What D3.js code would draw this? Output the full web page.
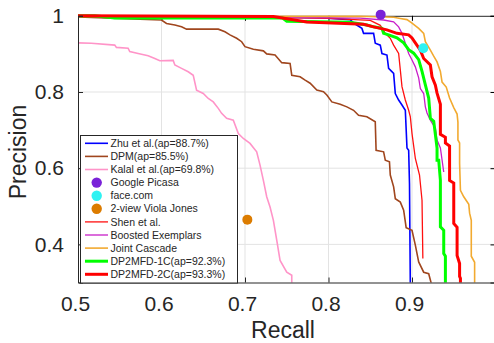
<!DOCTYPE html>
<html>
<head>
<meta charset="utf-8">
<script src="https://cdn.jsdelivr.net/npm/d3@7"></script>
<style>
  html, body { margin: 0; padding: 0; background: #fff; }
  svg { display: block; font-family: "Liberation Sans", Arial, sans-serif; }
  .tick text { fill: #262626; }
</style>
</head>
<body>
<div id="chart"></div>
<script>
// [recall, precision]
const zhu = [[0.5,1.0],[0.6,0.998],[0.7,0.996],[0.79,0.995],[0.826,0.99],[0.83,0.981],[0.840,0.967],[0.842,0.954],
  [0.854,0.954],[0.856,0.928],[0.862,0.923],[0.864,0.901],[0.870,0.897],[0.872,0.862],[0.878,0.849],[0.880,0.796],
  [0.884,0.779],[0.888,0.766],[0.892,0.752],[0.894,0.653],[0.896,0.647],[0.897,0.560],[0.898,0.29]];
const dpm = [[0.5,0.997],[0.574,0.991],[0.600,0.989],[0.606,0.980],[0.616,0.976],[0.624,0.971],[0.630,0.965],[0.668,0.965],
  [0.676,0.958],[0.682,0.950],[0.690,0.941],[0.696,0.932],[0.700,0.919],[0.710,0.912],[0.722,0.908],[0.726,0.900],
  [0.736,0.897],[0.744,0.877],[0.754,0.875],[0.756,0.844],[0.766,0.840],[0.772,0.831],[0.778,0.823],[0.786,0.805],
  [0.794,0.801],[0.798,0.792],[0.804,0.774],[0.814,0.768],[0.822,0.761],[0.830,0.752],[0.836,0.739],[0.846,0.735],
  [0.856,0.722],[0.857,0.647],[0.866,0.643],[0.868,0.621],[0.873,0.617],[0.874,0.582],[0.878,0.551],[0.880,0.520],
  [0.886,0.511],[0.890,0.490],[0.893,0.444],[0.900,0.437],[0.904,0.398],[0.908,0.354],[0.914,0.327],[0.920,0.323],[0.924,0.29]];
const kalal = [[0.5,0.929],[0.516,0.928],[0.544,0.923],[0.546,0.917],[0.560,0.915],[0.562,0.906],[0.572,0.901],[0.584,0.895],
  [0.592,0.888],[0.598,0.882],[0.614,0.883],[0.616,0.871],[0.624,0.862],[0.632,0.853],[0.638,0.844],[0.642,0.805],
  [0.650,0.796],[0.656,0.783],[0.662,0.774],[0.668,0.757],[0.672,0.744],[0.678,0.731],[0.686,0.726],[0.692,0.691],
  [0.698,0.678],[0.706,0.665],[0.714,0.643],[0.718,0.608],[0.722,0.568],[0.726,0.525],[0.730,0.498],[0.734,0.463],
  [0.738,0.411],[0.742,0.358],[0.750,0.327],[0.756,0.319],[0.756,0.29]];
const shen = [[0.5,1.0],[0.7,0.997],[0.8,0.993],[0.85,0.988],[0.862,0.975],[0.868,0.954],[0.874,0.941],[0.878,0.923],
  [0.884,0.901],[0.886,0.858],[0.888,0.814],[0.892,0.779],[0.896,0.752],[0.898,0.735],[0.900,0.691],[0.904,0.626],
  [0.909,0.582],[0.912,0.516],[0.913,0.363]];
const boosted = [[0.5,1.0],[0.7,0.997],[0.838,0.994],[0.866,0.989],[0.878,0.984],[0.884,0.971],[0.888,0.954],[0.892,0.928],
  [0.896,0.901],[0.900,0.884],[0.904,0.866],[0.908,0.837],[0.910,0.809],[0.914,0.796],[0.916,0.761],[0.918,0.745],
  [0.922,0.726],[0.928,0.705],[0.930,0.674],[0.934,0.653],[0.938,0.590]];
const jointCascade = [[0.5,0.998],[0.838,0.999],[0.878,0.996],[0.886,0.993],[0.894,0.990],[0.900,0.981],[0.908,0.967],
  [0.914,0.954],[0.916,0.932],[0.922,0.910],[0.926,0.894],[0.930,0.879],[0.934,0.854],[0.936,0.826],[0.941,0.813],
  [0.945,0.784],[0.950,0.759],[0.954,0.742],[0.955,0.721],[0.955,0.674],[0.957,0.666],[0.957,0.613],[0.958,0.542],
  [0.962,0.525],[0.968,0.505],[0.969,0.482],[0.971,0.463],[0.971,0.369],[0.975,0.353],[0.975,0.29]];
const dp1c = [[0.5,1.0],[0.520,1.0],[0.544,0.994],[0.745,0.994],[0.750,0.986],[0.826,0.983],[0.846,0.976],
  [0.854,0.971],[0.864,0.967],[0.866,0.954],[0.872,0.950],[0.882,0.942],[0.890,0.929],[0.896,0.911],[0.902,0.902],
  [0.908,0.885],[0.912,0.854],[0.916,0.819],[0.920,0.784],[0.922,0.731],[0.926,0.723],[0.928,0.688],[0.930,0.653],
  [0.930,0.621],[0.932,0.621],[0.934,0.568],[0.934,0.446],[0.938,0.437],[0.938,0.376],[0.940,0.369],[0.940,0.29]];
const dp2c = [[0.5,1.0],[0.734,0.998],[0.774,0.984],[0.842,0.978],[0.854,0.971],[0.870,0.963],[0.882,0.954],[0.896,0.950],
  [0.900,0.942],[0.904,0.929],[0.910,0.910],[0.914,0.888],[0.922,0.871],[0.924,0.840],[0.928,0.818],[0.930,0.797],
  [0.934,0.768],[0.934,0.689],[0.940,0.681],[0.940,0.666],[0.945,0.658],[0.945,0.568],[0.950,0.561],[0.950,0.455],
  [0.954,0.445],[0.954,0.371],[0.957,0.350],[0.957,0.316],[0.958,0.311],[0.958,0.29]];

const picasa = [[0.8625, 1.003]];
const faceCom = [[0.9135, 0.915]];
const violaJones = [[0.7028, 0.465]];

const legendLabels = ["Zhu et al.(ap=88.7%)", "DPM(ap=85.5%)", "Kalal et al.(ap=69.8%)", "Google Picasa", "face.com",
  "2-view Viola Jones", "Shen et al.", "Boosted Exemplars", "Joint Cascade", "DP2MFD-1C(ap=92.3%)", "DP2MFD-2C(ap=93.3%)"];

const xTicks = [0.5, 0.6, 0.7, 0.8, 0.9];
const yTicks = [0.4, 0.6, 0.8, 1];

const entries = [
  { data: zhu, kind: "line", color: "#0000ff", w: 1.6 },
  { data: dpm, kind: "line", color: "#a0461e", w: 1.6 },
  { data: kalal, kind: "line", color: "#ff94c8", w: 1.6 },
  { data: picasa, kind: "dot", color: "#7a22d8" },
  { data: faceCom, kind: "dot", color: "#2ef2f2" },
  { data: violaJones, kind: "dot", color: "#dc7c00" },
  { data: shen, kind: "line", color: "#ff1010", w: 1.3 },
  { data: boosted, kind: "line", color: "#c81ec8", w: 1.3 },
  { data: jointCascade, kind: "line", color: "#f2aa30", w: 1.6 },
  { data: dp1c, kind: "line", color: "#00ff00", w: 3 },
  { data: dp2c, kind: "line", color: "#ff0000", w: 3 }
].map((d, i) => ({ ...d, label: legendLabels[i] }));

const W = 494, H = 343;
const plot = { left: 78, right: 495.5, top: 15.8, bottom: 282.5 };

const svg = d3.select("#chart").append("svg")
  .attr("width", W).attr("height", H);

const x = d3.scaleLinear().domain([0.5, 1]).range([plot.left, plot.right]);
const y = d3.scaleLinear().domain([0.3, 1]).range([plot.bottom, plot.top]);

svg.append("defs").append("clipPath").attr("id", "clip")
  .append("rect")
  .attr("x", plot.left).attr("y", 0)
  .attr("width", plot.right - plot.left).attr("height", plot.bottom);

// grid
const grid = svg.append("g").attr("stroke", "#e3e3e3").attr("stroke-width", 1);
grid.selectAll(".vg").data(xTicks.slice(1)).join("line")
  .attr("x1", d => x(d)).attr("x2", d => x(d))
  .attr("y1", plot.top).attr("y2", plot.bottom);
grid.selectAll(".hg").data(yTicks.slice(0, -1)).join("line")
  .attr("x1", plot.left).attr("x2", plot.right)
  .attr("y1", d => y(d)).attr("y2", d => y(d));

// box top edge + mirrored ticks
svg.append("g").attr("transform", `translate(0,${plot.top})`)
  .call(d3.axisTop(x).tickValues(xTicks).tickSize(-5).tickFormat(""))
  .call(g => g.select(".domain").attr("stroke", "#262626"));
svg.append("g").attr("transform", `translate(${plot.right},0)`)
  .call(d3.axisRight(y).tickValues(yTicks).tickSize(-5).tickFormat(""));

const line = d3.line().x(d => x(d[0])).y(d => y(d[1]));

const curves = svg.append("g").attr("clip-path", "url(#clip)");
entries.filter(d => d.kind === "line").forEach(s => {
  curves.append("path")
    .attr("fill", "none")
    .attr("stroke", s.color)
    .attr("stroke-width", s.w)
    .attr("stroke-linejoin", "miter")
    .attr("d", line(s.data));
});

entries.filter(d => d.kind === "dot").forEach(s => {
  svg.append("g").selectAll("circle").data(s.data).join("circle")
    .attr("cx", d => x(d[0])).attr("cy", d => y(d[1]))
    .attr("r", 5).attr("fill", s.color);
});

// axes
svg.append("g").attr("transform", `translate(0,${plot.bottom})`)
  .call(d3.axisBottom(x).tickValues(xTicks).tickSize(-5).tickPadding(13.5)
    .tickFormat(d3.format(".1f")))
  .call(g => g.select(".domain").attr("stroke", "#262626"))
  .call(g => g.selectAll(".tick line").attr("stroke", "#262626"))
  .call(g => g.selectAll("text").attr("font-size", 21).attr("dx", -3).attr("font-family", null));

svg.append("g").attr("transform", `translate(${plot.left},0)`)
  .call(d3.axisLeft(y).tickValues(yTicks).tickSize(-5).tickPadding(14)
    .tickFormat(d => d === 1 ? "1" : d3.format(".1f")(d)))
  .call(g => g.select(".domain").attr("stroke", "#262626"))
  .call(g => g.selectAll(".tick line").attr("stroke", "#262626"))
  .call(g => g.selectAll("text").attr("font-size", 21).attr("font-family", null));

svg.append("text")
  .attr("x", 283).attr("y", 338)
  .attr("text-anchor", "middle").attr("font-size", 23).attr("fill", "#262626")
  .text("Recall");

svg.append("text")
  .attr("transform", "translate(26,152) rotate(-90)")
  .attr("text-anchor", "middle").attr("font-size", 23).attr("fill", "#262626")
  .text("Precision");

// legend
const lg = { x: 80, y: 135, w: 157, h: 147.5, row: 13.1 };
const legend = svg.append("g");
legend.append("rect")
  .attr("x", lg.x + 0.5).attr("y", lg.y + 0.5)
  .attr("width", lg.w).attr("height", lg.h)
  .attr("fill", "#fff").attr("stroke", "#262626").attr("stroke-width", 1);

const items = legend.selectAll(".item").data(entries).join("g")
  .attr("transform", (d, i) => `translate(0,${lg.y + 8.3 + i * lg.row})`);
items.filter(d => d.kind === "line").append("line")
  .attr("x1", 85).attr("x2", 108)
  .attr("stroke", d => d.color)
  .attr("stroke-width", d => d.w);
items.filter(d => d.kind === "dot").append("circle")
  .attr("cx", 96.7).attr("r", 5.2).attr("fill", d => d.color);
items.append("text")
  .attr("x", 110.5).attr("dy", "0.35em")
  .attr("font-size", 10.5).attr("fill", "#262626")
  .text(d => d.label);
</script>
</body>
</html>
